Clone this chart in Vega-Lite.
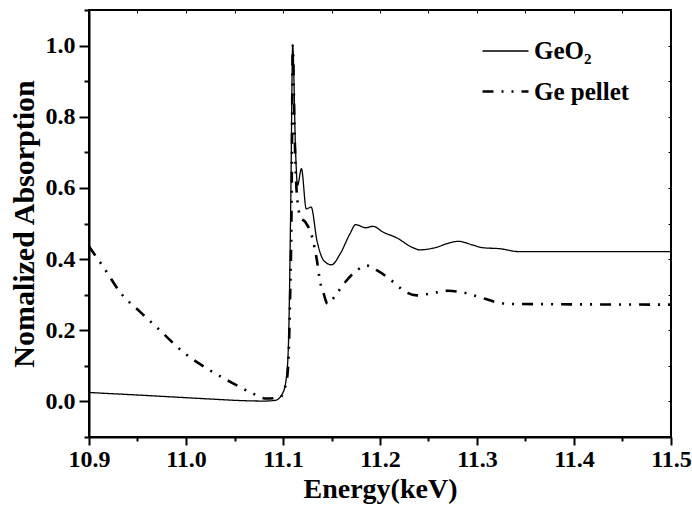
{
  "$schema": "https://vega.github.io/schema/vega-lite/v6.json",
  "width": 582,
  "height": 427,
  "autosize": {"type": "none"},
  "padding": {"left": 89, "top": 10, "right": 21, "bottom": 70},
  "background": "white",
  "config": {
    "view": {"stroke": "black", "strokeWidth": 2}
  },
  "data": {
    "values": [
      {"series": "GeO₂", "energy": 10.900, "absorption": 0.025},
      {"series": "GeO₂", "energy": 10.950, "absorption": 0.018},
      {"series": "GeO₂", "energy": 10.990, "absorption": 0.012},
      {"series": "GeO₂", "energy": 11.030, "absorption": 0.006},
      {"series": "GeO₂", "energy": 11.060, "absorption": 0.002},
      {"series": "GeO₂", "energy": 11.080, "absorption": 0.001},
      {"series": "GeO₂", "energy": 11.092, "absorption": 0.003},
      {"series": "GeO₂", "energy": 11.100, "absorption": 0.025},
      {"series": "GeO₂", "energy": 11.104, "absorption": 0.08},
      {"series": "GeO₂", "energy": 11.106, "absorption": 0.2},
      {"series": "GeO₂", "energy": 11.108, "absorption": 0.56},
      {"series": "GeO₂", "energy": 11.110, "absorption": 1.0},
      {"series": "GeO₂", "energy": 11.113, "absorption": 0.70},
      {"series": "GeO₂", "energy": 11.115, "absorption": 0.607},
      {"series": "GeO₂", "energy": 11.119, "absorption": 0.654},
      {"series": "GeO₂", "energy": 11.124, "absorption": 0.541},
      {"series": "GeO₂", "energy": 11.129, "absorption": 0.546},
      {"series": "GeO₂", "energy": 11.135, "absorption": 0.452},
      {"series": "GeO₂", "energy": 11.142, "absorption": 0.396},
      {"series": "GeO₂", "energy": 11.150, "absorption": 0.384},
      {"series": "GeO₂", "energy": 11.159, "absorption": 0.415},
      {"series": "GeO₂", "energy": 11.169, "absorption": 0.471},
      {"series": "GeO₂", "energy": 11.175, "absorption": 0.497},
      {"series": "GeO₂", "energy": 11.185, "absorption": 0.488},
      {"series": "GeO₂", "energy": 11.193, "absorption": 0.492},
      {"series": "GeO₂", "energy": 11.203, "absorption": 0.476},
      {"series": "GeO₂", "energy": 11.217, "absorption": 0.46},
      {"series": "GeO₂", "energy": 11.234, "absorption": 0.432},
      {"series": "GeO₂", "energy": 11.241, "absorption": 0.426},
      {"series": "GeO₂", "energy": 11.258, "absorption": 0.433},
      {"series": "GeO₂", "energy": 11.272, "absorption": 0.446},
      {"series": "GeO₂", "energy": 11.281, "absorption": 0.450},
      {"series": "GeO₂", "energy": 11.295, "absorption": 0.440},
      {"series": "GeO₂", "energy": 11.306, "absorption": 0.432},
      {"series": "GeO₂", "energy": 11.324, "absorption": 0.429},
      {"series": "GeO₂", "energy": 11.343, "absorption": 0.421},
      {"series": "GeO₂", "energy": 11.500, "absorption": 0.421},
      {"series": "Ge pellet", "energy": 10.900, "absorption": 0.435},
      {"series": "Ge pellet", "energy": 10.916, "absorption": 0.373},
      {"series": "Ge pellet", "energy": 10.932, "absorption": 0.307},
      {"series": "Ge pellet", "energy": 10.953, "absorption": 0.251},
      {"series": "Ge pellet", "energy": 10.973, "absorption": 0.200},
      {"series": "Ge pellet", "energy": 10.997, "absorption": 0.139},
      {"series": "Ge pellet", "energy": 11.025, "absorption": 0.087},
      {"series": "Ge pellet", "energy": 11.049, "absorption": 0.050},
      {"series": "Ge pellet", "energy": 11.069, "absorption": 0.022},
      {"series": "Ge pellet", "energy": 11.083, "absorption": 0.008},
      {"series": "Ge pellet", "energy": 11.097, "absorption": 0.012},
      {"series": "Ge pellet", "energy": 11.103, "absorption": 0.05},
      {"series": "Ge pellet", "energy": 11.105, "absorption": 0.087},
      {"series": "Ge pellet", "energy": 11.107, "absorption": 0.25},
      {"series": "Ge pellet", "energy": 11.109, "absorption": 0.6},
      {"series": "Ge pellet", "energy": 11.110, "absorption": 1.0},
      {"series": "Ge pellet", "energy": 11.112, "absorption": 0.75},
      {"series": "Ge pellet", "energy": 11.114, "absorption": 0.593},
      {"series": "Ge pellet", "energy": 11.118, "absorption": 0.518},
      {"series": "Ge pellet", "energy": 11.123, "absorption": 0.504},
      {"series": "Ge pellet", "energy": 11.130, "absorption": 0.462},
      {"series": "Ge pellet", "energy": 11.135, "absorption": 0.396},
      {"series": "Ge pellet", "energy": 11.138, "absorption": 0.34},
      {"series": "Ge pellet", "energy": 11.142, "absorption": 0.302},
      {"series": "Ge pellet", "energy": 11.146, "absorption": 0.274},
      {"series": "Ge pellet", "energy": 11.155, "absorption": 0.302},
      {"series": "Ge pellet", "energy": 11.164, "absorption": 0.335},
      {"series": "Ge pellet", "energy": 11.176, "absorption": 0.368},
      {"series": "Ge pellet", "energy": 11.186, "absorption": 0.382},
      {"series": "Ge pellet", "energy": 11.197, "absorption": 0.368},
      {"series": "Ge pellet", "energy": 11.214, "absorption": 0.335},
      {"series": "Ge pellet", "energy": 11.224, "absorption": 0.312},
      {"series": "Ge pellet", "energy": 11.238, "absorption": 0.298},
      {"series": "Ge pellet", "energy": 11.252, "absorption": 0.303},
      {"series": "Ge pellet", "energy": 11.270, "absorption": 0.311},
      {"series": "Ge pellet", "energy": 11.289, "absorption": 0.304},
      {"series": "Ge pellet", "energy": 11.303, "absorption": 0.293},
      {"series": "Ge pellet", "energy": 11.320, "absorption": 0.279},
      {"series": "Ge pellet", "energy": 11.334, "absorption": 0.274},
      {"series": "Ge pellet", "energy": 11.500, "absorption": 0.272}
    ]
  },
  "resolve": {"axis": {"x": "independent", "y": "independent"}},
  "layer": [
    {
      "mark": {"type": "line", "color": "black", "interpolate": "monotone", "clip": true},
      "encoding": {
        "x": {
          "field": "energy", "type": "quantitative",
          "scale": {"domain": [10.9, 11.5], "nice": false, "zero": false},
          "axis": {
            "title": "Energy(keV)", "orient": "bottom", "grid": false,
            "domainColor": "black", "domainWidth": 2, "tickColor": "black", "tickWidth": 2,
            "labelFont": "Liberation Serif", "labelFontWeight": "bold", "labelFontSize": 24, "labelColor": "black",
            "titleFont": "Liberation Serif", "titleFontWeight": "bold", "titleFontSize": 28, "titleColor": "black",
            "labelOverlap": false, "labelFlush": false,
            "values": [10.9, 10.95, 11.0, 11.05, 11.1, 11.15, 11.2, 11.25, 11.3, 11.35, 11.4, 11.45, 11.5],
            "labelExpr": "abs(datum.value*10 - round(datum.value*10)) < 0.001 ? format(datum.value, '.1f') : ''",
            "tickSize": {"condition": {"test": "abs(datum.value*10 - round(datum.value*10)) < 0.001", "value": 8}, "value": 4},
            "labelPadding": 2, "titlePadding": 4
          }
        },
        "y": {
          "field": "absorption", "type": "quantitative",
          "scale": {"domain": [-0.1, 1.1], "nice": false, "zero": false},
          "axis": {
            "title": "Nomalized Absorption", "orient": "left", "grid": false,
            "domainColor": "black", "domainWidth": 2, "tickColor": "black", "tickWidth": 2,
            "labelFont": "Liberation Serif", "labelFontWeight": "bold", "labelFontSize": 24, "labelColor": "black",
            "titleFont": "Liberation Serif", "titleFontWeight": "bold", "titleFontSize": 30, "titleColor": "black",
            "labelOverlap": false, "labelFlush": false,
            "values": [-0.1, 0, 0.1, 0.2, 0.3, 0.4, 0.5, 0.6, 0.7, 0.8, 0.9, 1.0, 1.1],
            "labelExpr": "abs(datum.value*5 - round(datum.value*5)) < 0.001 && datum.value > -0.05 && datum.value < 1.05 ? format(datum.value, '.1f') : ''",
            "tickSize": {"condition": {"test": "abs(datum.value*5 - round(datum.value*5)) < 0.001 && datum.value > -0.05 && datum.value < 1.05", "value": 10}, "value": 5},
            "labelPadding": 4, "titlePadding": 6
          }
        },
        "strokeDash": {
          "field": "series", "type": "nominal",
          "scale": {"domain": ["GeO₂", "Ge pellet"], "range": [[1, 0], [11, 8, 2, 8, 2, 8]]},
          "legend": {
            "title": null, "orient": "none", "legendX": 392, "legendY": 17,
            "symbolType": "stroke", "symbolSize": 2116, "symbolStrokeColor": "black",
            "labelFont": "Liberation Serif", "labelFontWeight": "bold", "labelFontSize": 25, "labelColor": "black",
            "labelOffset": 4, "rowPadding": 3, "padding": 0
          }
        },
        "strokeWidth": {
          "field": "series", "type": "nominal",
          "scale": {"domain": ["GeO₂", "Ge pellet"], "range": [1.3, 2.6]},
          "legend": {
            "title": null, "orient": "none", "legendX": 392, "legendY": 17,
            "symbolType": "stroke", "symbolSize": 2116, "symbolStrokeColor": "black",
            "labelFont": "Liberation Serif", "labelFontWeight": "bold", "labelFontSize": 25, "labelColor": "black",
            "labelOffset": 4, "rowPadding": 3, "padding": 0
          }
        }
      }
    },
    {
      "mark": {"type": "point", "opacity": 0},
      "encoding": {
        "x": {
          "field": "energy", "type": "quantitative",
          "axis": {
            "title": null, "orient": "top", "labels": false, "domain": false, "grid": false,
            "values": [10.95, 11.0, 11.05, 11.1, 11.15, 11.2, 11.25, 11.3, 11.35, 11.4, 11.45],
            "tickSize": -3, "tickWidth": 1, "tickColor": "black"
          }
        },
        "y": {
          "field": "absorption", "type": "quantitative",
          "axis": {
            "title": null, "orient": "right", "labels": false, "domain": false, "grid": false,
            "values": [0, 0.1, 0.2, 0.3, 0.4, 0.5, 0.6, 0.7, 0.8, 0.9, 1.0],
            "tickSize": -3, "tickWidth": 1, "tickColor": "black"
          }
        }
      }
    }
  ]
}
